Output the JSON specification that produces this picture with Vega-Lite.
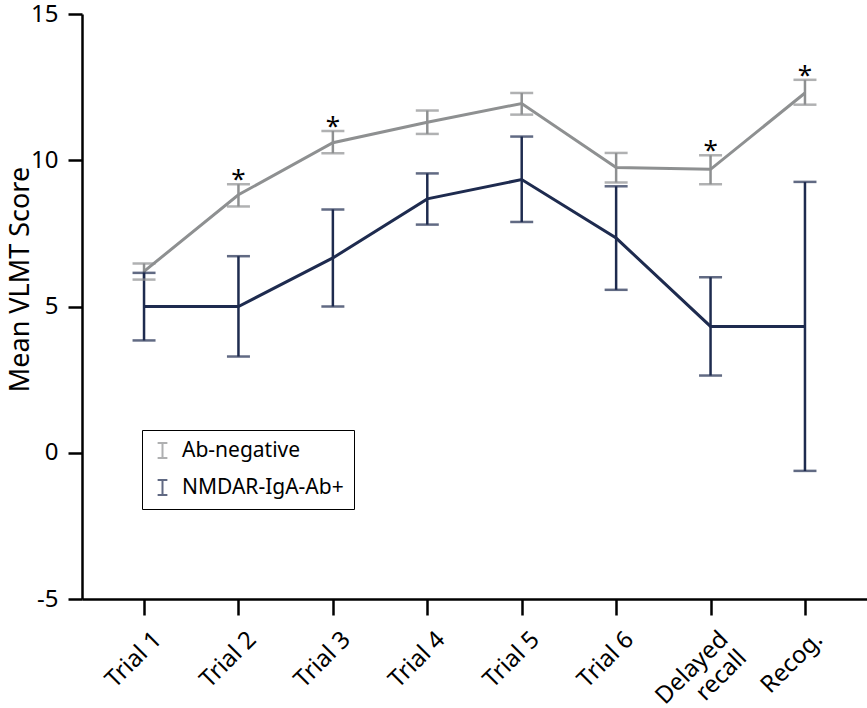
{
  "$schema": "https://vega.github.io/schema/vega-lite/v6.json",
  "autosize": "none",
  "padding": {"left": 82, "top": 14, "right": 0, "bottom": 109},
  "width": 785,
  "height": 585,
  "background": "white",
  "config": {"view": {"stroke": null}, "font": "Noto Sans"},
  "data": {"values": [
    {"condition": "Trial 1", "group": "Ab-negative", "mean": 6.2, "lower": 5.92, "upper": 6.47, "sig": ""},
    {"condition": "Trial 2", "group": "Ab-negative", "mean": 8.82, "lower": 8.42, "upper": 9.18, "sig": "*"},
    {"condition": "Trial 3", "group": "Ab-negative", "mean": 10.6, "lower": 10.24, "upper": 11.0, "sig": "*"},
    {"condition": "Trial 4", "group": "Ab-negative", "mean": 11.3, "lower": 10.9, "upper": 11.7, "sig": ""},
    {"condition": "Trial 5", "group": "Ab-negative", "mean": 11.94, "lower": 11.56, "upper": 12.3, "sig": ""},
    {"condition": "Trial 6", "group": "Ab-negative", "mean": 9.75, "lower": 9.24, "upper": 10.25, "sig": ""},
    {"condition": "Delayed recall", "group": "Ab-negative", "mean": 9.69, "lower": 9.18, "upper": 10.17, "sig": "*"},
    {"condition": "Recog.", "group": "Ab-negative", "mean": 12.3, "lower": 11.9, "upper": 12.75, "sig": "*"},
    {"condition": "Trial 1", "group": "NMDAR-IgA-Ab+", "mean": 5.0, "lower": 3.84, "upper": 6.15, "sig": ""},
    {"condition": "Trial 2", "group": "NMDAR-IgA-Ab+", "mean": 5.0, "lower": 3.29, "upper": 6.72, "sig": ""},
    {"condition": "Trial 3", "group": "NMDAR-IgA-Ab+", "mean": 6.66, "lower": 5.0, "upper": 8.32, "sig": ""},
    {"condition": "Trial 4", "group": "NMDAR-IgA-Ab+", "mean": 8.68, "lower": 7.8, "upper": 9.55, "sig": ""},
    {"condition": "Trial 5", "group": "NMDAR-IgA-Ab+", "mean": 9.34, "lower": 7.89, "upper": 10.81, "sig": ""},
    {"condition": "Trial 6", "group": "NMDAR-IgA-Ab+", "mean": 7.34, "lower": 5.57, "upper": 9.11, "sig": ""},
    {"condition": "Delayed recall", "group": "NMDAR-IgA-Ab+", "mean": 4.32, "lower": 2.64, "upper": 6.0, "sig": ""},
    {"condition": "Recog.", "group": "NMDAR-IgA-Ab+", "mean": 4.32, "lower": -0.62, "upper": 9.26, "sig": ""}
  ]},
  "encoding": {
    "x": {
      "field": "condition", "type": "nominal",
      "sort": ["Trial 1", "Trial 2", "Trial 3", "Trial 4", "Trial 5", "Trial 6", "Delayed recall", "Recog."],
      "scale": {"type": "point", "padding": 0.657},
      "axis": {
        "title": null, "domainColor": "black", "domainWidth": 2.5, "tickColor": "black", "tickWidth": 2.5, "tickSize": 16,
        "labelAngle": -45, "labelAlign": "right", "labelBaseline": "top", "labelPadding": 12, "labelOffset": 5,
        "labelFontSize": 24, "labelColor": "black", "grid": false,
        "labelExpr": "datum.value == 'Delayed recall' ? ['Delayed', 'recall'] : datum.label",
        "labelLineHeight": 26
      }
    },
    "color": {
      "field": "group", "type": "nominal",
      "scale": {"domain": ["Ab-negative", "NMDAR-IgA-Ab+"], "range": ["#8e9091", "#1e2b4f"]},
      "legend": {
        "title": null, "orient": "none", "legendX": 60, "legendY": 416,
        "strokeColor": "black", "padding": 10, "fillColor": "white",
        "symbolType": "M-0.65,-1H0.65M0,-1V1M-0.65,1H0.65", "symbolSize": 225, "symbolStrokeWidth": 2,
        "labelFontSize": 21, "labelColor": "black", "rowPadding": 14, "labelOffset": 9, "labelLimit": 300
      }
    }
  },
  "layer": [
    {
      "mark": {"type": "line", "strokeWidth": 3},
      "encoding": {
        "y": {
          "field": "mean", "type": "quantitative",
          "scale": {"domain": [-5, 15], "nice": false, "zero": false},
          "axis": {
            "title": "Mean VLMT Score", "titleFontSize": 27, "titleFontWeight": "normal", "titleColor": "black",
            "titleX": -62, "titleY": 265, "titleAngle": -90, "titleAlign": "center", "titleBaseline": "middle",
            "values": [-5, 0, 5, 10, 15], "domainColor": "black", "domainWidth": 2.5, "tickColor": "black", "tickWidth": 2.5, "tickSize": 14,
            "labelFontSize": 24, "labelColor": "black", "labelPadding": 10, "grid": false,
            "labelExpr": "replace(datum.label, '\u2212', '-')"
          }
        }
      }
    },
    {
      "mark": {"type": "rule", "strokeWidth": 2.5},
      "encoding": {"y": {"field": "lower", "type": "quantitative"}, "y2": {"field": "upper"}}
    },
    {
      "mark": {"type": "tick", "thickness": 2.5, "size": 23, "orient": "horizontal"},
      "encoding": {"y": {"field": "lower", "type": "quantitative"}}
    },
    {
      "mark": {"type": "tick", "thickness": 2.5, "size": 23, "orient": "horizontal"},
      "encoding": {"y": {"field": "upper", "type": "quantitative"}}
    },
    {
      "mark": {"type": "text", "fontSize": 26, "baseline": "alphabetic", "dy": 4, "color": "black"},
      "encoding": {"y": {"field": "upper", "type": "quantitative"}, "text": {"field": "sig"}, "color": {"value": "black"}}
    }
  ]
}
